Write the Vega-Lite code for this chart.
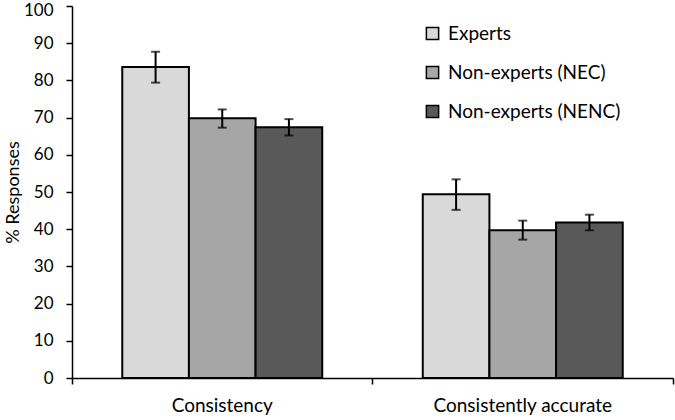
{
  "$schema": "https://vega.github.io/schema/vega-lite/v6.json",
  "width": 601,
  "height": 372,
  "autosize": {"type": "none"},
  "padding": {"left": 72, "top": 6, "right": 2, "bottom": 42},
  "background": "white",
  "config": {
    "view": {"stroke": null},
    "font": "Lato",
    "axis": {"labelFont": "Lato", "titleFont": "Lato", "labelColor": "#000", "titleColor": "#000", "domainColor": "#000", "tickColor": "#000", "grid": false},
    "axisY": {"labelOverlap": false, "labelFontSize": 17, "labelPadding": 13, "tickSize": 6, "tickWidth": 1.5, "domainWidth": 1.5, "titleFontSize": 18, "titleFontWeight": "normal", "titlePadding": 1}
  },
  "data": {
    "values": [
      {"measure": "Consistency", "group": "Experts", "value": 83.6, "lo": 79.4, "hi": 87.7},
      {"measure": "Consistency", "group": "Non-experts (NEC)", "value": 69.8, "lo": 67.3, "hi": 72.2},
      {"measure": "Consistency", "group": "Non-experts (NENC)", "value": 67.4, "lo": 65.2, "hi": 69.6},
      {"measure": "Consistently accurate", "group": "Experts", "value": 49.4, "lo": 45.2, "hi": 53.4},
      {"measure": "Consistently accurate", "group": "Non-experts (NEC)", "value": 39.7, "lo": 37.2, "hi": 42.3},
      {"measure": "Consistently accurate", "group": "Non-experts (NENC)", "value": 41.8, "lo": 39.7, "hi": 43.9}
    ]
  },
  "encoding": {
    "x": {
      "field": "measure", "type": "nominal",
      "scale": {"paddingInner": 0, "paddingOuter": 0},
      "axis": {"title": null, "labelAngle": 0, "labelFontSize": 19, "labelPadding": 12, "tickSize": 6, "tickWidth": 1.5, "domainWidth": 1.5, "bandPosition": 1, "tickExtra": true}
    },
    "xOffset": {
      "field": "group", "type": "nominal",
      "scale": {"paddingInner": 0, "paddingOuter": 0.754}
    }
  },
  "layer": [
    {
      "mark": {"type": "bar", "stroke": "#000", "strokeWidth": 2},
      "encoding": {
        "y": {
          "field": "value", "type": "quantitative",
          "scale": {"domain": [0, 100]},
          "axis": {"title": "% Responses", "values": [0,10,20,30,40,50,60,70,80,90,100], "labelOffset": {"condition": {"test": "datum.value == 100", "value": 4}, "value": 0}}
        },
        "fill": {
          "field": "group", "type": "nominal",
          "scale": {"domain": ["Experts", "Non-experts (NEC)", "Non-experts (NENC)"], "range": ["#d9d9d9", "#a6a6a6", "#595959"]},
          "legend": {
            "title": null, "orient": "none", "legendX": 351, "legendY": 18,
            "symbolType": "square", "symbolSize": 150, "symbolStrokeColor": "#000", "symbolStrokeWidth": 1.5,
            "labelFontSize": 19, "labelFont": "Lato", "labelColor": "#000", "labelLimit": 300, "rowPadding": 19, "labelOffset": 6
          }
        }
      }
    },
    {
      "mark": {"type": "rule", "stroke": "#000", "strokeWidth": 2},
      "encoding": {
        "y": {"field": "lo", "type": "quantitative", "axis": {"title": "% Responses", "values": [0,10,20,30,40,50,60,70,80,90,100], "labelOffset": {"condition": {"test": "datum.value == 100", "value": 4}, "value": 0}}},
        "y2": {"field": "hi"}
      }
    },
    {
      "mark": {"type": "tick", "color": "#000", "size": 9, "thickness": 2},
      "encoding": {"y": {"field": "lo", "type": "quantitative", "axis": {"title": "% Responses", "values": [0,10,20,30,40,50,60,70,80,90,100], "labelOffset": {"condition": {"test": "datum.value == 100", "value": 4}, "value": 0}}}}
    },
    {
      "mark": {"type": "tick", "color": "#000", "size": 9, "thickness": 2},
      "encoding": {"y": {"field": "hi", "type": "quantitative", "axis": {"title": "% Responses", "values": [0,10,20,30,40,50,60,70,80,90,100], "labelOffset": {"condition": {"test": "datum.value == 100", "value": 4}, "value": 0}}}}
    }
  ]
}
